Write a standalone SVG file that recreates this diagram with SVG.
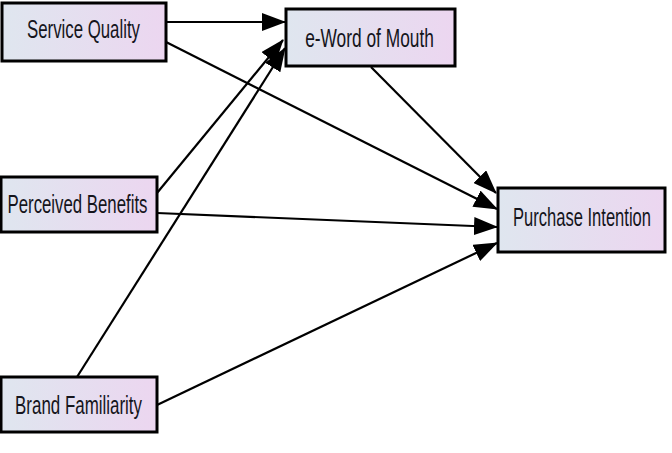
<svg xmlns="http://www.w3.org/2000/svg" width="672" height="453" viewBox="0 0 672 453">
  <defs>
    <linearGradient id="boxFill" x1="0" y1="0" x2="1" y2="0">
      <stop offset="0" stop-color="#dfe6ef"/>
      <stop offset="1" stop-color="#ecd6f0"/>
    </linearGradient>
    <marker id="arrow" markerUnits="userSpaceOnUse" markerWidth="24" markerHeight="18" viewBox="0 0 24 18" refX="23" refY="9" orient="auto">
      <path d="M0,0 L24,9 L0,18 Z" fill="#000"/>
    </marker>
    <style>
      .box { fill: url(#boxFill); stroke: #000; stroke-width: 3; }
      .label { font-family: "Liberation Sans", Arial, sans-serif; font-size: 25px; fill: #15151c; text-anchor: middle; }
      .edge { stroke: #000; stroke-width: 2.2; fill: none; marker-end: url(#arrow); }
    </style>
  </defs>
  <rect width="672" height="453" fill="#fff"/>

  <g id="connectors">
    <line class="edge" x1="166" y1="22" x2="285" y2="22"/>
    <line class="edge" x1="166" y1="42" x2="497" y2="209"/>
    <line class="edge" x1="157" y1="193" x2="283" y2="40"/>
    <line class="edge" x1="77" y1="377" x2="285" y2="48"/>
    <line class="edge" x1="157" y1="213" x2="497" y2="227"/>
    <line class="edge" x1="371" y1="67" x2="496" y2="193"/>
    <line class="edge" x1="157" y1="405" x2="497" y2="243"/>
  </g>

  <!-- labels use a narrowed sans face: horizontal scale about 0.67 -->
  <g id="service-quality">
    <rect class="box" x="2" y="3" width="164" height="58"/>
    <text class="label" transform="translate(83.5 38) scale(0.672 1)">Service Quality</text>
  </g>
  <g id="e-word-of-mouth">
    <rect class="box" x="286" y="9" width="169" height="57"/>
    <text class="label" transform="translate(369.5 47) scale(0.693 1)">e-Word of Mouth</text>
  </g>
  <g id="perceived-benefits">
    <rect class="box" x="1" y="177" width="156" height="55"/>
    <text class="label" transform="translate(77.5 213) scale(0.672 1)">Perceived Benefits</text>
  </g>
  <g id="purchase-intention">
    <rect class="box" x="498" y="188" width="167" height="64"/>
    <text class="label" transform="translate(582 226) scale(0.662 1)">Purchase Intention</text>
  </g>
  <g id="brand-familiarity">
    <rect class="box" x="1" y="377" width="156" height="55"/>
    <text class="label" transform="translate(78.5 414) scale(0.677 1)">Brand Familiarity</text>
  </g>
</svg>
